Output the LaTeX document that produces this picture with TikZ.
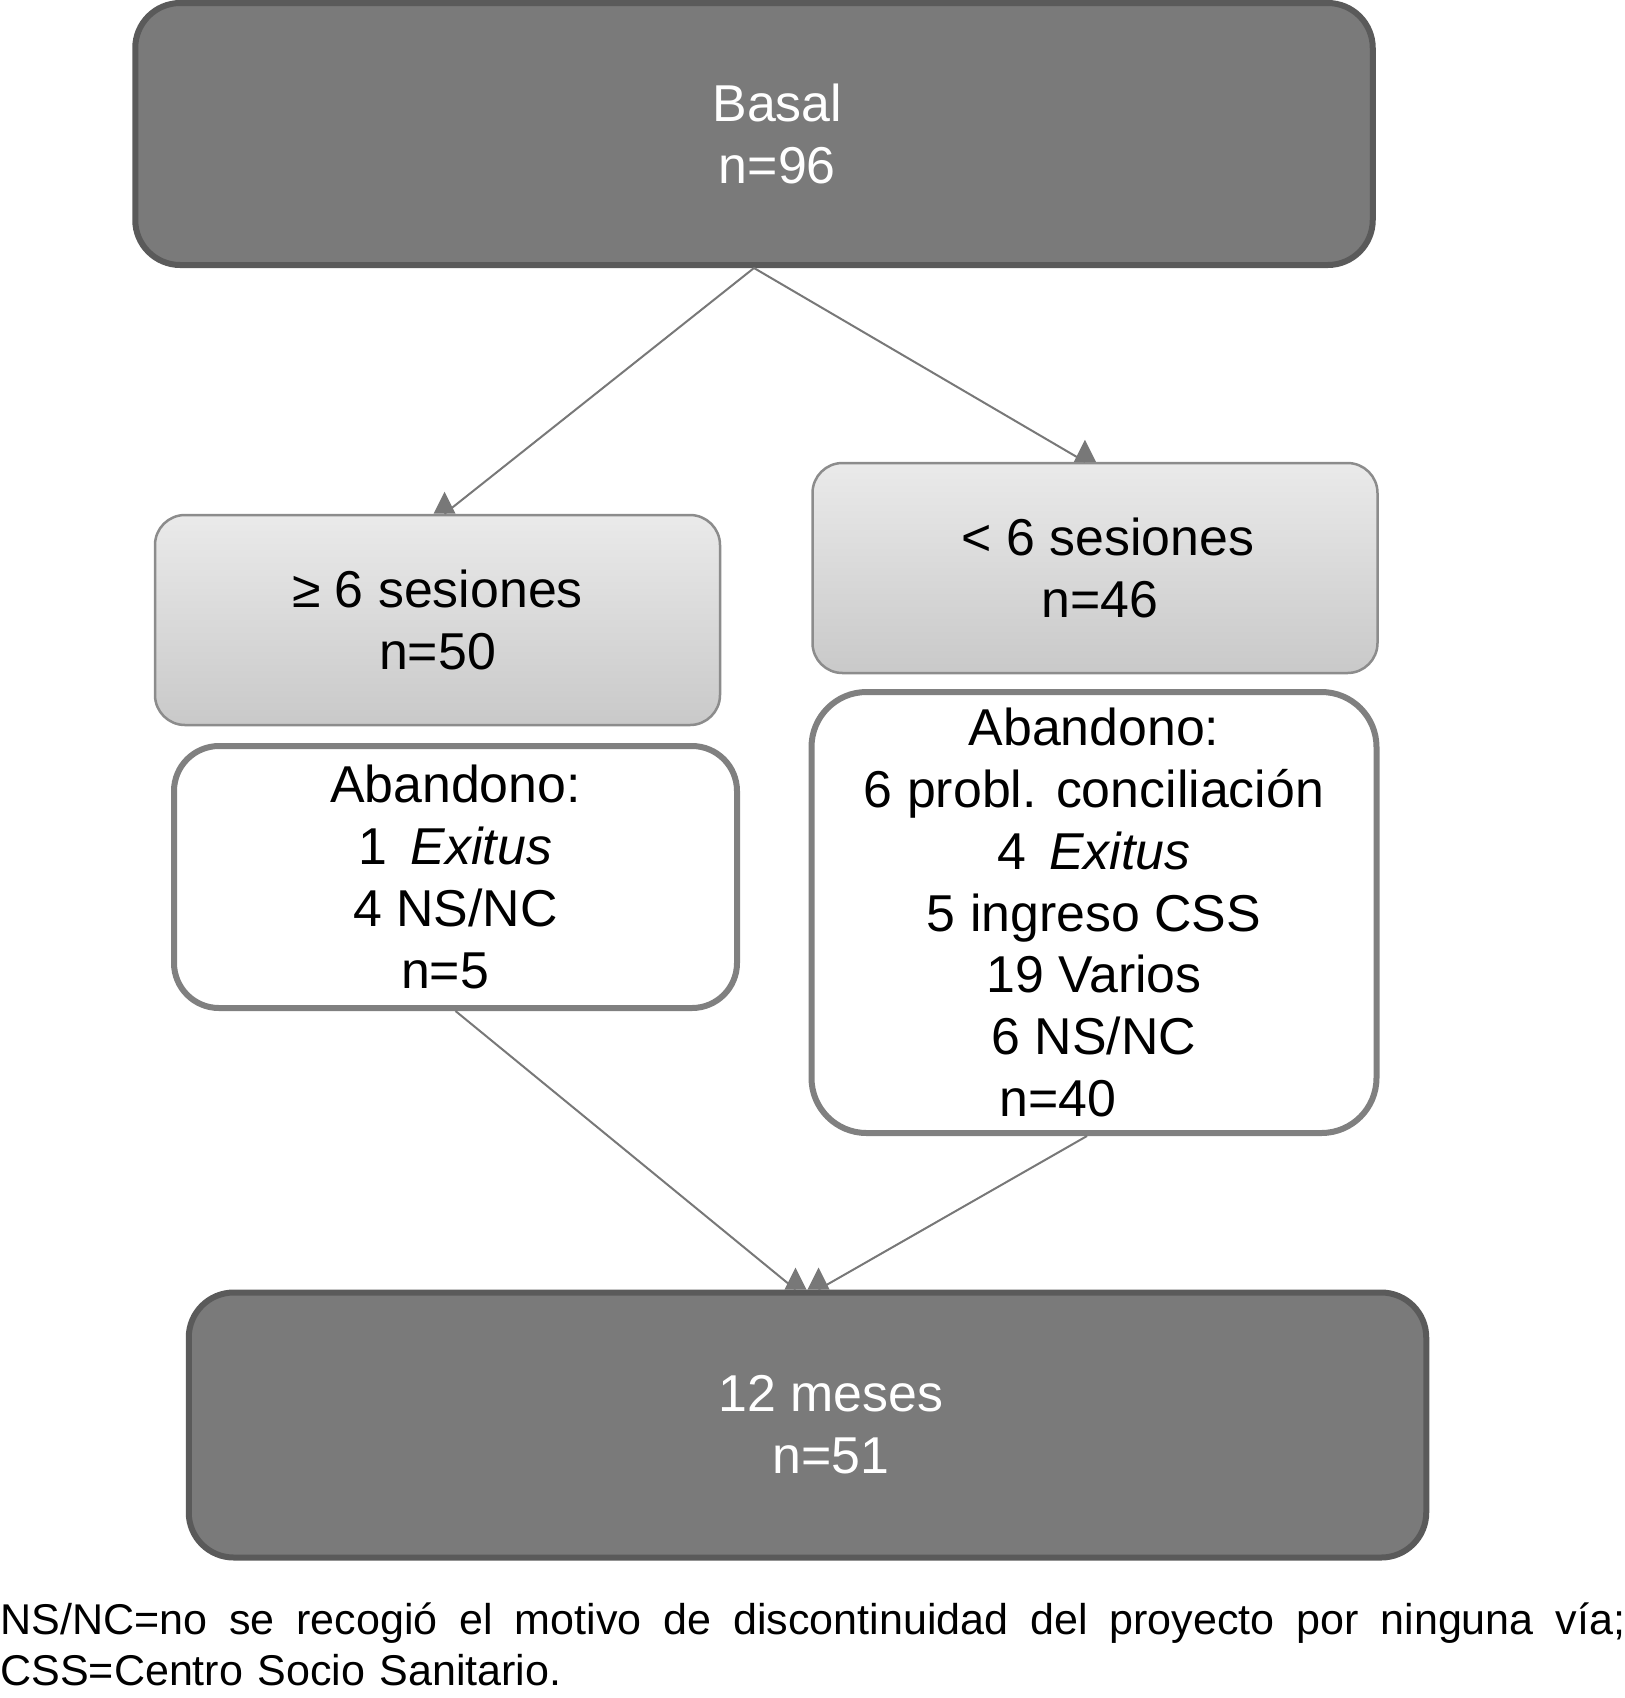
\documentclass[tikz,border=0pt]{standalone}
\usepackage{fontspec}
\setmainfont{Liberation Sans}
\usetikzlibrary{decorations.markings}
\definecolor{darkbox}{RGB}{122,122,122}
\definecolor{darkedge}{RGB}{90,90,90}
\definecolor{lighttop}{RGB}{234,234,234}
\definecolor{lightbot}{RGB}{201,201,201}
\definecolor{lightedge}{RGB}{140,140,140}
\definecolor{whiteedge}{RGB}{128,128,128}
\definecolor{linegray}{RGB}{120,120,120}

\tikzset{
  boxtext/.style={align=center,inner sep=0pt,font=\fontsize{29.5}{35.2}\selectfont},
  darkstage/.style={boxtext,draw=darkedge,fill=darkbox,text=white,line width=0.12cm,
    rounded corners=0.9cm,minimum width=24.75cm},
  groupbox/.style={boxtext,draw=lightedge,top color=lighttop,bottom color=lightbot,
    line width=0.05cm,rounded corners=0.6cm,minimum width=11.3cm,minimum height=4.2cm},
  dropbox/.style={boxtext,draw=whiteedge,fill=white,line width=0.12cm,minimum width=11.26cm},
  flow/.style={draw=linegray,line width=0.04cm,postaction={decorate},
    decoration={markings,mark=at position 1 with {\pgftransformresetnontranslations
      \fill[linegray] (-0.22,0) -- (0.22,0) -- (0,0.44) -- cycle;}}},
}

\begin{document}
\begin{tikzpicture}
  \useasboundingbox (0,0) rectangle (32.5,-33.96);

  % --- stages ---
  \node[darkstage,minimum height=5.24cm] (basal) at (15.08,-2.68)
    {\hspace*{0.9em}Basal\\\hspace*{0.9em}n=96};
  \node[darkstage,minimum height=5.3cm] (meses) at (16.15,-28.5)
    {\hspace*{0.9em}12 meses\\\hspace*{0.9em}n=51};

  % --- groups by sessions ---
  \node[groupbox] (masseis) at (8.75,-12.4) {≥ 6 sesiones\\n=50};
  \node[groupbox] (menosseis) at (21.9,-11.36) {\hspace*{0.5em}< 6 sesiones\\\hspace*{0.2em}n=46};

  % --- drop-outs ---
  \node[dropbox,rounded corners=0.9cm,minimum height=5.24cm] (abandmas) at (9.11,-17.54)
    {Abandono:\\1 \,\textit{Exitus}\\4 NS/NC\\n=5\hspace*{0.4em}};
  \node[dropbox,rounded corners=1.1cm,minimum width=11.3cm,minimum height=8.82cm] (abandmenos) at (21.88,-18.25)
    {Abandono:\\6 probl. conciliación\\4 \,\textit{Exitus}\\5 ingreso CSS\\19 Varios\\6 NS/NC\\n=40\hspace*{1.4em}};

  % --- connectors ---
  \draw[flow] (basal.south) -- ([xshift=0.14cm]masseis.north);
  \draw[flow] (basal.south) -- ([xshift=-0.2cm]menosseis.north);
  \draw[flow] (abandmas.south) -- ([xshift=-0.24cm]meses.north);
  \draw[flow] ([xshift=-0.14cm]abandmenos.south) -- ([xshift=0.22cm]meses.north);

  % --- footnote ---
  \node[anchor=base west,inner sep=0pt,text width=32.5cm,align=left,
    font=\fontsize{24.5}{29.5}\selectfont] (nota) at (0,-32.68)
    {\hbox to 32.5cm{NS/NC=no\hfill se\hfill recogió\hfill el\hfill motivo\hfill de\hfill
     discontinuidad\hfill del\hfill proyecto\hfill por\hfill ninguna\hfill vía;}\\
     CSS=Centro Socio Sanitario.};
\end{tikzpicture}
\end{document}
